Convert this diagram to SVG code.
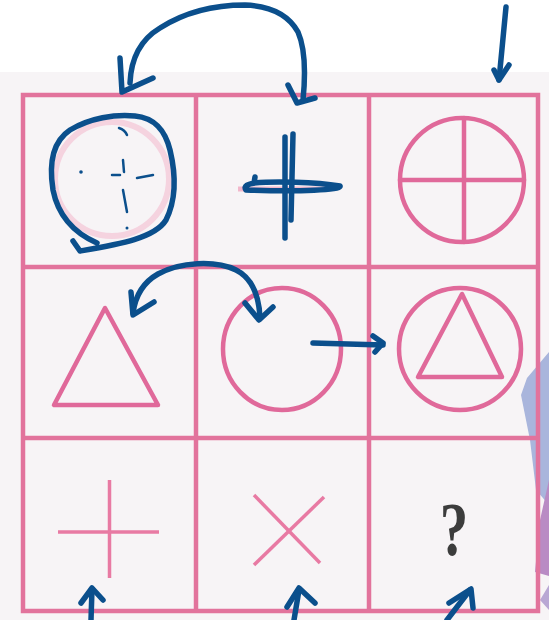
<svg xmlns="http://www.w3.org/2000/svg" width="549" height="620" viewBox="0 0 549 620">
<style>
.grid{fill:none;stroke:#e2739c;stroke-width:4.5}
.pk{fill:none;stroke:#e0699a;stroke-width:4.5;stroke-linecap:round;stroke-linejoin:round}
.pkt{fill:none;stroke:#e87aa3;stroke-width:3.5}
.bl{fill:none;stroke:#0b4f8c;stroke-width:5.5;stroke-linecap:round;stroke-linejoin:round}
.blt{fill:none;stroke:#0b4f8c;stroke-width:2.5;stroke-linecap:round}
</style>
<rect x="0" y="0" width="549" height="620" fill="#ffffff"/>
<rect x="0" y="72" width="549" height="548" fill="#f7f4f6"/>
<polygon points="549,352 527,378 521,395 530,440 536,490 549,505" fill="#a9b5dc"/>
<polygon points="549,480 540,520 535,572 549,576" fill="#b98bc4"/>
<polygon points="549,585 540,600 549,610" fill="#b9a7d4"/>
<g id="grid">
<rect class="grid" x="23" y="95" width="515" height="516"/>
<line class="grid" x1="196" y1="95" x2="196" y2="611"/>
<line class="grid" x1="369" y1="95" x2="369" y2="611"/>
<line class="grid" x1="23" y1="267" x2="538" y2="267"/>
<line class="grid" x1="23" y1="438" x2="538" y2="438"/>
</g>
<g id="cell1">
<circle cx="112" cy="179" r="57" fill="none" stroke="#f3bdd0" stroke-width="6" opacity="0.6"/>
<path class="bl" stroke-width="7" d="M97,243 C72,232 58,215 53,190 C49,165 52,142 70,130 C90,118 115,114 135,116 C155,118 165,130 170,150 C176,175 176,200 166,220 C155,238 120,244 80,251 L73,241"/>
<circle cx="81" cy="172" r="1.8" fill="#0b4f8c"/>
<circle cx="127" cy="228" r="1.5" fill="#0b4f8c"/>
<path class="blt" d="M119,128 Q125,130 127,135"/>
<line class="blt" x1="123" y1="160" x2="124" y2="172"/>
<line class="blt" x1="112" y1="175" x2="120" y2="175"/>
<line class="blt" x1="137" y1="178" x2="153" y2="175"/>
<line class="blt" x1="123" y1="190" x2="127" y2="212"/>
</g>
<g id="cell2">
<line x1="238" y1="189" x2="330" y2="189" stroke="#f2b7cb" stroke-width="5"/>
<line class="bl" x1="285" y1="137" x2="285" y2="238"/>
<line class="bl" x1="293" y1="134" x2="291" y2="220"/>
<path class="bl" d="M255,177 L254,183 C275,181 315,182 340,186 C342,190 300,192 246,190 C243,186 248,184 255,183" stroke-width="4.5"/>
</g>
<g id="cell3">
<circle class="pk" cx="462" cy="180" r="62"/>
<line class="pk" x1="400" y1="180" x2="524" y2="180"/>
<line class="pk" x1="464" y1="118" x2="464" y2="242"/>
</g>
<g id="cell4">
<polygon class="pk" points="105,308 54,405 158,405"/>
</g>
<g id="cell5">
<ellipse class="pk" cx="282" cy="349" rx="59" ry="61"/>
</g>
<g id="cell6">
<circle class="pk" cx="460" cy="349" r="61"/>
<polygon class="pk" points="462,294 418,377 502,377"/>
</g>
<g id="cell7">
<line class="pkt" x1="109.5" y1="480" x2="109.5" y2="578"/>
<line class="pkt" x1="58" y1="532" x2="159" y2="532"/>
</g>
<g id="cell8">
<line class="pkt" x1="254" y1="495" x2="320" y2="563"/>
<line class="pkt" x1="324" y1="497" x2="254" y2="565"/>
</g>
<g id="cell9">
<text x="454" y="555" font-family="Liberation Serif, serif" font-size="76" font-weight="bold" fill="#3c3c3c" text-anchor="middle" transform="translate(454 555) scale(0.75 1) translate(-454 -555)">?</text>
</g>
<g id="connectors">
<path class="bl" d="M130,83 C131,58 140,40 160,28 C185,12 215,5 245,5 C270,6 288,14 298,32 C305,48 306,70 303,100"/>
<path class="bl" d="M120,58 L122,92 L153,78"/>
<path class="bl" d="M288,85 L297,103 L315,98"/>
<path class="bl" d="M506,7 L499,80"/>
<path class="bl" d="M494,70 L499,80 L509,65"/>
<path class="bl" d="M133,313 C135,298 142,283 158,274 C180,262 215,260 236,270 C252,278 259,295 260,318"/>
<path class="bl" d="M131,292 L133,315 L154,302"/>
<path class="bl" d="M245,303 L259,320 L273,307"/>
<path class="bl" d="M313,343 L383,345"/>
<path class="bl" d="M373,336 L383,343 L375,352"/>
<path class="bl" d="M91,620 L92,589"/>
<path class="bl" d="M81,603 L92,588 L103,600"/>
<path class="bl" d="M294,620 L299,590"/>
<path class="bl" d="M287,607 L299,588 L315,603"/>
<path class="bl" d="M447,620 L470,590"/>
<path class="bl" d="M449,603 L471,589 L473,608"/>
</g>
</svg>
